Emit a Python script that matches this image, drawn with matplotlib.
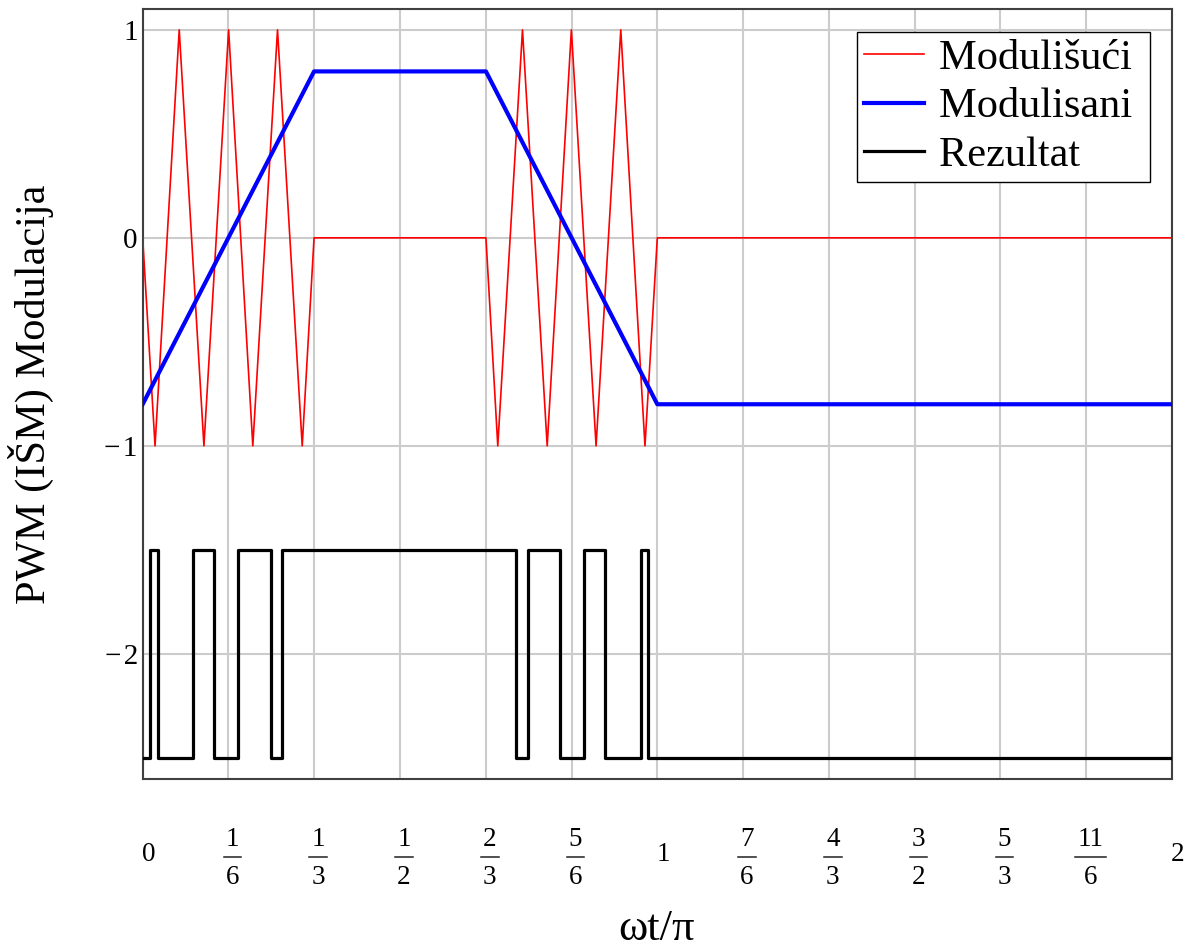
import matplotlib
matplotlib.use("Agg")
import matplotlib.pyplot as plt
import matplotlib.transforms as mtransforms
from matplotlib.lines import Line2D

plt.rcParams["font.family"] = ["Liberation Serif", "DejaVu Serif"]

# carrier (triangle) vertices
carrier_x = [0, 0.024, 0.071, 0.119, 0.167, 0.214, 0.262, 0.310, 0.333,
             0.667, 0.690, 0.738, 0.786, 0.833, 0.881, 0.929, 0.976, 1.0, 2.0]
carrier_y = [0, -1, 1, -1, 1, -1, 1, -1, 0,
             0, -1, 1, -1, 1, -1, 1, -1, 0, 0]

# modulating (trapezoid) vertices
mod_x = [0, 0.333, 0.667, 1.0, 2.0]
mod_y = [-0.8, 0.8, 0.8, -0.8, -0.8]

# PWM result: switching instants and levels (step, post)
res_x = [0, 0.014, 0.030, 0.098, 0.139, 0.185, 0.249, 0.270,
         0.725, 0.749, 0.811, 0.858, 0.898, 0.968, 0.982, 2.0]
res_y = [-2.5, -1.5, -2.5, -1.5, -2.5, -1.5, -2.5, -1.5,
         -2.5, -1.5, -2.5, -1.5, -2.5, -1.5, -2.5, -2.5]

xticks = [0, 1/6, 1/3, 1/2, 2/3, 5/6, 1, 7/6, 4/3, 3/2, 5/3, 11/6, 2]
# (numerator, denominator); denominator None -> plain integer label
xticklabels = [("0", None), ("1", "6"), ("1", "3"), ("1", "2"), ("2", "3"),
               ("5", "6"), ("1", None), ("7", "6"), ("4", "3"), ("3", "2"),
               ("5", "3"), ("11", "6"), ("2", None)]
yticks = [1, 0, -1, -2]
yticklabels = ["1", "0", "\u2212\u200a1", "\u2212\u200a2"]

W, H = 1188, 947
fig = plt.figure(figsize=(W / 100, H / 100), dpi=100)
ax = fig.add_axes([0.1201, 0.1777, 0.8664, 0.8128])

ax.plot(carrier_x, carrier_y, color="#ff0000", lw=1.2, label="Modulišući ", zorder=3)
ax.plot(mod_x, mod_y, color="#0000ff", lw=3.0, label="Modulisani ", zorder=4)
ax.step(res_x, res_y, where="post", color="black", lw=2.3, label="Rezultat ", zorder=5)

ax.set_xlim(0, 2)
ax.set_ylim(-2.6, 1.1)

ax.set_xticks(xticks)
ax.set_yticks(yticks, yticklabels, fontsize=21)
ax.tick_params(axis="both", length=0)
ax.tick_params(axis="y", pad=3.5)
ax.tick_params(axis="x", labelbottom=False)

# stacked-fraction tick labels under the axis
blend = mtransforms.blended_transform_factory(ax.transData, fig.transFigure)
px_per_unit = ax.get_position().width * W / 2.0
for xv, (num, den) in zip(xticks, xticklabels):
    if den is None:
        off = mtransforms.ScaledTranslation(6 / 100, 0, fig.dpi_scale_trans)
        fig.text(xv, 1 - 854.5 / H, num, transform=blend + off,
                 ha="center", va="center", fontsize=19.5)
    else:
        off = mtransforms.ScaledTranslation(4 / 100, 0, fig.dpi_scale_trans)
        fig.text(xv, 1 - 839 / H, num, transform=blend + off,
                 ha="center", va="center", fontsize=19.5)
        fig.text(xv, 1 - 877.5 / H, den, transform=blend + off,
                 ha="center", va="center", fontsize=19.5)
        half = (13.5 * max(len(num), len(den)) + 4) / 2 / px_per_unit
        bar = Line2D([xv - half, xv + half], [1 - 856.7 / H] * 2, color="#202020",
                     lw=1.1, transform=blend + off, clip_on=False)
        fig.add_artist(bar)

ax.grid(True, color="#cccccc", lw=1.5)
ax.set_axisbelow(True)
for sp in ax.spines.values():
    sp.set_color("#404040")
    sp.set_linewidth(1.5)

leg = ax.legend(loc="upper right", bbox_to_anchor=(0.9786, 0.970), borderaxespad=0,
                fontsize=30.5, fancybox=False, framealpha=1, edgecolor="black",
                handlelength=1.42, handletextpad=0.35, labelspacing=0.23, borderpad=0.17)
leg.get_frame().set_linewidth(1.0)

fig.text(31 / W, 1 - 394 / H, "PWM (IŠM) Modulacija", rotation=90,
         ha="center", va="center", fontsize=30.5)
fig.text(656 / W, 1 - 940 / H, "ωt/π", ha="center", va="baseline", fontsize=32)

fig.savefig("out.png", dpi=100)
